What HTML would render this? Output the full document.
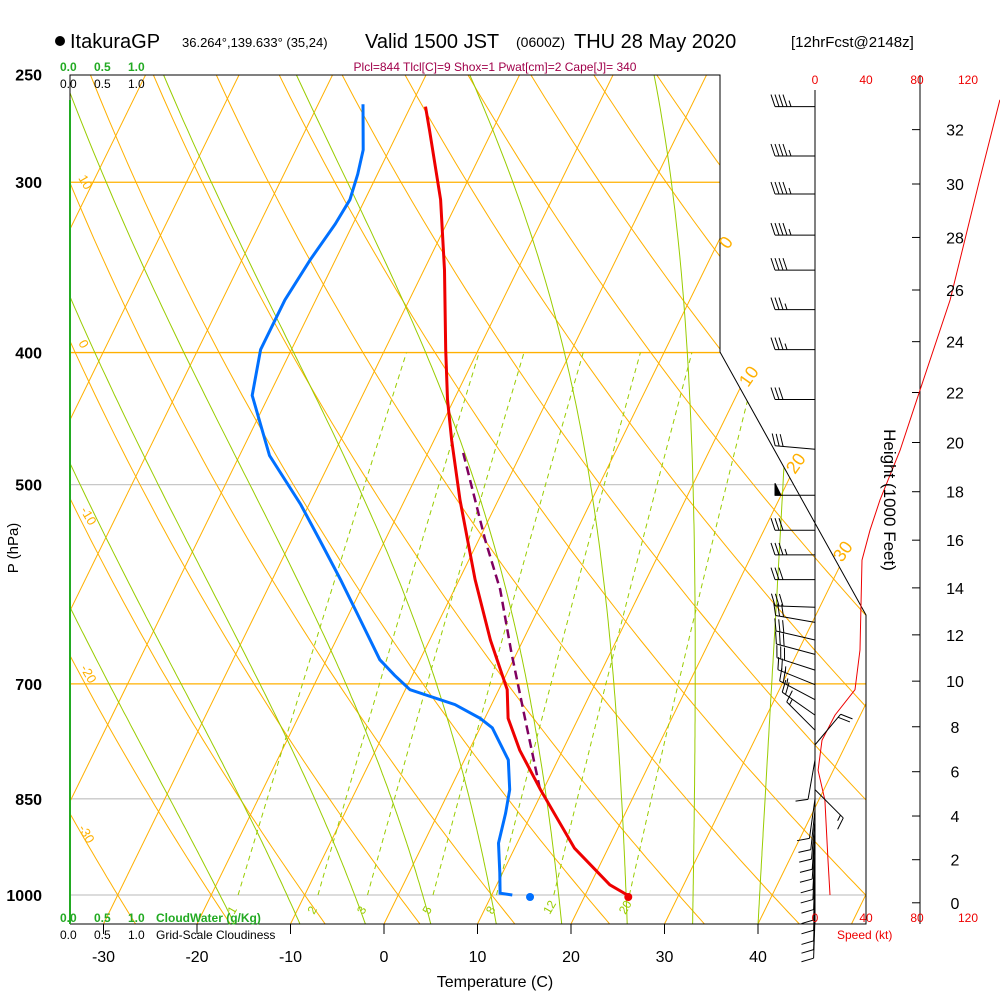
<!DOCTYPE html>
<html><head><meta charset="utf-8"><style>
body{margin:0;background:#fff;}
svg{display:block;font-family:"Liberation Sans",sans-serif;}
</style></head><body>
<svg id="chart" width="1000" height="1000" viewBox="0 0 1000 1000" xmlns="http://www.w3.org/2000/svg">
<defs><clipPath id="plotclip"><polygon points="70,75 720,75 720,352 866,615 866,924 70,924"/></clipPath></defs>
<g id="bg" clip-path="url(#plotclip)"></g>
<g id="marks"></g>
<g id="txt">
<circle cx="60" cy="41" r="5" fill="#000"/>
<text x="70" y="48" font-size="20">ItakuraGP</text>
<text x="182" y="47" font-size="13">36.264°,139.633° (35,24)</text>
<text x="365" y="48" font-size="20">Valid 1500 JST</text>
<text x="516" y="47" font-size="14">(0600Z)</text>
<text x="574" y="48" font-size="20">THU 28 May 2020</text>
<text x="791" y="47" font-size="15">[12hrFcst@2148z]</text>
<text x="495" y="71" font-size="12" fill="#a0004a" text-anchor="middle">Plcl=844 Tlcl[C]=9 Shox=1 Pwat[cm]=2 Cape[J]= 340</text>
<g font-size="12" font-weight="bold" fill="#22aa22"><text x="60" y="71">0.0</text><text x="94" y="71">0.5</text><text x="128" y="71">1.0</text></g>
<g font-size="12" fill="#000"><text x="60" y="88">0.0</text><text x="94" y="88">0.5</text><text x="128" y="88">1.0</text></g>
<g font-size="12" font-weight="bold" fill="#22aa22"><text x="60" y="922">0.0</text><text x="94" y="922">0.5</text><text x="128" y="922">1.0</text><text x="156" y="922">CloudWater (g/Kg)</text></g>
<g font-size="12" fill="#000"><text x="60" y="939">0.0</text><text x="94" y="939">0.5</text><text x="128" y="939">1.0</text><text x="156" y="939">Grid-Scale Cloudiness</text></g>
<text x="18" y="548" font-size="15" transform="rotate(-90 18 548)" text-anchor="middle">P (hPa)</text>
<text x="495" y="987" font-size="16" text-anchor="middle">Temperature (C)</text>
<text x="884" y="500" font-size="17" transform="rotate(90 884 500)" text-anchor="middle">Height (1000 Feet)</text>
<text x="837" y="939" font-size="12" fill="#e00">Speed (kt)</text>
</g>
</svg>
<script>
const tempP=[1000,983,924,837,783,742,707,650,587,513,464,433,398,348,309,275,264];
const tempT=[24.5,22.1,16.4,9.7,5.4,2.5,0.9,-3.5,-8.3,-14.1,-18.1,-20.7,-23.5,-27.8,-31.9,-36.7,-38.4];
const dewP=[1000,997,963,916,871,837,796,754,742,725,707,690,672,628,587,549,517,476,430,398,366,342,322,309,296,284,263];
const dewT=[12.2,10.8,9.7,8.0,7.2,6.4,4.7,1.3,-0.5,-3.9,-9.5,-11.9,-14.3,-18.5,-22.7,-27.0,-30.9,-36.8,-41.8,-43.3,-43.3,-42.7,-41.9,-41.6,-42.1,-42.8,-45.2];
const parcelP=[836,747,664,597,549,471];
const parcelT=[9.6,4.6,-0.6,-5.1,-9.3,-16.5];
const sfcT=24.5, sfcTd=14.1;
const spdP=[1000,943,852,810,770,738,707,661,568,540,513,472,426,366,299,261];
const spdV=[11.8,10.2,7.8,2.4,5.5,15.7,31.4,35.3,36.9,43.1,51,66.7,82.4,106,129,145];
const barbP=[264,287,306,328,348,372,398,433,471,509,540,563,587,615,631,650,666,684,701,719,738,757,776,796,837,850,866,880,895,910,926,942,958,975,992,1010,1025,1040];
const barbSpd=[45,45,45,45,40,35,35,30,30,50,30,35,30,30,30,30,30,30,25,25,20,15,20,10,15,10,10,10,10,10,10,10,10,10,10,10,10,10];
const barbDir=[270,270,270,270,270,270,270,270,275,270,270,270,270,272,280,283,285,288,292,298,305,315,40,190,135,188,186,185,184,184,183,183,182,182,182,182,182,182];
const xTicks=[-30,-20,-10,0,10,20,30,40];
const pTicks=[250,300,400,500,700,850,1000];
const hTicks=[0,2,4,6,8,10,12,14,16,18,20,22,24,26,28,30,32];
const spdTicks=[0,40,80,120];
const mixR=[1,2,3,5,8,12,20];
const NS="http://www.w3.org/2000/svg";
function yP(p){return 895-592*Math.log(1000/p);}
function xT(t,p){return 384+9.35*t+0.49*(924-yP(p));}
function xS(v){return 815+v*1.275;}
function mk(tag,parent,at){const e=document.createElementNS(NS,tag);for(const k in at)e.setAttribute(k,at[k]);parent.appendChild(e);return e;}
const bg=document.getElementById('bg'),mg=document.getElementById('marks'),tg=document.getElementById('txt');
function pathP(ps,ts){return ps.map((p,i)=>(i?'L':'M')+xT(ts[i],p).toFixed(1)+','+yP(p).toFixed(1)).join('');}
pTicks.forEach(p=>{const col=(p==300||p==400||p==700)?'#ffb000':'#c8c8c8';
const l=mk('line',bg,{x1:70,x2:870,y1:yP(p),y2:yP(p),stroke:col,'stroke-width':1.3});

});
for(let t=-120;t<=50;t+=10){const l=mk('line',bg,{x1:xT(t,1050),y1:yP(1050),x2:xT(t,240),y2:yP(240),stroke:'#ffb000','stroke-width':1});

}
for(let th=-40;th<=220;th+=10){let d='';for(let p=1050;p>=240;p-=10){const t=(th+273.15)*Math.pow(p/1000,0.286)-273.15;d+=(d?'L':'M')+xT(t,p).toFixed(1)+','+yP(p).toFixed(1);}
const e=mk('path',bg,{d:d,fill:'none',stroke:'#ffb000','stroke-width':1});

}
function es(t){return 6.112*Math.exp(17.67*t/(t+243.5));}
function moistLapse(t,p){const T=t+273.15,r=0.622*es(t)/(p-es(t)),L=2.5e6,Rd=287,cp=1005,eps=0.622;
return (Rd*T+L*r)/(cp+L*L*r*eps/(Rd*T*T))/p;}
for(let t0=-16;t0<=40;t0+=7){let t=t0,d='';for(let p=1050;p>=240;p-=5){d+=(d?'L':'M')+xT(t,p).toFixed(1)+','+yP(p).toFixed(1);t-=moistLapse(t,p)*5;}
const e=mk('path',bg,{d:d,fill:'none',stroke:'#99cc00','stroke-width':1});

}
mixR.forEach(w=>{let d='';for(let p=1000;p>=400;p-=20){const e=w*p/(622+w);const lx=Math.log(e/6.112);const t=243.5*lx/(17.67-lx);d+=(d?'L':'M')+xT(t,p).toFixed(1)+','+yP(p).toFixed(1);}
const e=mk('path',bg,{d:d,fill:'none',stroke:'#99cc00','stroke-width':1,'stroke-dasharray':'5,4'});


const e2=w*1000/(622+w),lx=Math.log(e2/6.112),t=243.5*lx/(17.67-lx);
const tx=mk('text',tg,{x:xT(t,1000)-4,y:915,'font-size':12,fill:'#99cc00',transform:'rotate(-60 '+(xT(t,1000)-4)+' 915)'});tx.textContent=w;

});
const fr=mk('polyline',mg,{points:'70,924 70,75 720,75 720,352 866,615 866,924 70,924',fill:'none',stroke:'#000','stroke-width':1});


const cw=mk('line',mg,{x1:70,y1:100,x2:70,y2:924,stroke:'#22aa22','stroke-width':2});


xTicks.forEach(t=>{const x=384+9.35*t;const l=mk('line',mg,{x1:x,x2:x,y1:924,y2:934,stroke:'#000'});


const tx=mk('text',tg,{x:x,y:962,'font-size':16,'text-anchor':'middle'});tx.textContent=t;

});
pTicks.forEach(p=>{const tx=mk('text',tg,{x:42,y:yP(p)+6,'font-size':16,'font-weight':'bold','text-anchor':'end'});tx.textContent=p;

});
const ha=mk('line',mg,{x1:920,x2:920,y1:75,y2:924,stroke:'#000'});


hTicks.forEach(h=>{const p=1013.25*Math.pow(1-6.8756e-6*h*1000,5.2559);const y=yP(p);
const l=mk('line',mg,{x1:912,x2:920,y1:y,y2:y,stroke:'#000'});


const tx=mk('text',tg,{x:955,y:y+6,'font-size':16,'text-anchor':'middle'});tx.textContent=h;

});
spdTicks.forEach(s=>{[84,922].forEach(y=>{const tx=mk('text',tg,{x:xS(s),y:y,'font-size':12,fill:'#e00','text-anchor':'middle'});tx.textContent=s;

});});
const sa=mk('line',mg,{x1:815,x2:815,y1:90,y2:924,stroke:'#000'});


const sp=mk('path',mg,{d:spdP.map((p,i)=>(i?'L':'M')+xS(spdV[i]).toFixed(1)+','+yP(p).toFixed(1)).join(''),fill:'none',stroke:'#e00','stroke-width':1});


barbP.forEach((p,i)=>{const y=yP(p),x=815,a=barbDir[i]*Math.PI/180;const dx=Math.sin(a),dy=-Math.cos(a);const L=40;
const g=mk('g',mg,{stroke:'#000','stroke-width':1,fill:'#000'});


const ex=x+dx*L,ey=y+dy*L;mk('line',g,{x1:x,y1:y,x2:ex,y2:ey});
let s=barbSpd[i],pos=0;const px=-dy,py=dx;
while(s>=50){const bx=ex-dx*pos,by=ey-dy*pos;mk('polygon',g,{points:bx+','+by+' '+(bx+px*12)+','+(by+py*12)+' '+(bx-dx*6)+','+(by-dy*6)});pos+=8;s-=50;}
while(s>=10){const bx=ex-dx*pos,by=ey-dy*pos;mk('line',g,{x1:bx,y1:by,x2:bx+px*12+dx*4,y2:by+py*12+dy*4});pos+=4;s-=10;}
if(s>=5){const bx=ex-dx*pos,by=ey-dy*pos;mk('line',g,{x1:bx,y1:by,x2:bx+px*6+dx*2,y2:by+py*6+dy*2});}});
const pc=mk('path',mg,{d:pathP(parcelP,parcelT),fill:'none',stroke:'#800060','stroke-width':2.5,'stroke-dasharray':'9,5'});


const dw=mk('path',mg,{d:pathP(dewP,dewT),fill:'none',stroke:'#0070ff','stroke-width':3});


const tl=mk('path',mg,{d:pathP(tempP,tempT),fill:'none',stroke:'#ee0000','stroke-width':3});


const c1=mk('circle',mg,{cx:xT(sfcT,1000)+1,cy:yP(1000)+2,r:4,fill:'#ee0000'});


const c2=mk('circle',mg,{cx:xT(sfcTd,1000),cy:yP(1000)+2,r:4,fill:'#0070ff'});


[["10",78,178],["0",78,343],["-10",80,510],["-20",80,668],["-30",78,828]].forEach(a=>{const tx=mk('text',tg,{x:a[1],y:a[2],'font-size':13,fill:'#ffb000',transform:'rotate(60 '+a[1]+' '+a[2]+')'});tx.textContent=a[0];

});
[["0",728,250],["10",748,388],["20",795,475],["30",842,563]].forEach(a=>{const tx=mk('text',tg,{x:a[1],y:a[2],'font-size':18,fill:'#ffb000',transform:'rotate(-55 '+a[1]+' '+a[2]+')'});tx.textContent=a[0];

});
</script>
</body></html>
